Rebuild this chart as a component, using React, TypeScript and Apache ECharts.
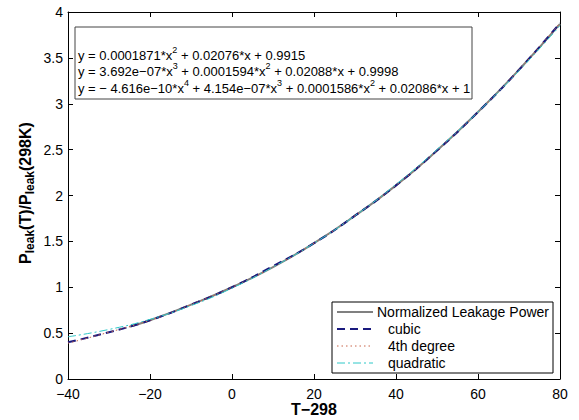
import React, { useEffect, useRef } from "react";
import * as echarts from "echarts";

const xs = [-40, -30, -20, -10, 0, 10, 20, 30, 40, 50, 60, 70, 80];
const cubicVals = [0.4, 0.51, 0.64, 0.81, 1.0, 1.23, 1.48, 1.78, 2.11, 2.49, 2.91, 3.37, 3.88];
const quarticVals = [0.39, 0.51, 0.64, 0.81, 1.0, 1.22, 1.48, 1.78, 2.11, 2.49, 2.91, 3.37, 3.88];
const quadraticVals = [0.46, 0.54, 0.65, 0.8, 0.99, 1.22, 1.48, 1.78, 2.12, 2.5, 2.91, 3.36, 3.85];
const normXs = [-25, -20, -10, 0, 10, 20, 30, 40, 50, 60, 70, 80];
const normVals = [0.57, 0.64, 0.81, 1.0, 1.22, 1.48, 1.78, 2.11, 2.49, 2.91, 3.37, 3.87];

const seriesNames = ["Normalized Leakage Power", "cubic", "4th degree", "quadratic"];
const equations = [
  ["y = 0.0001871*x", "2", " + 0.02076*x + 0.9915"],
  ["y = 3.692e−07*x", "3", " + 0.0001594*x", "2", " + 0.02088*x + 0.9998"],
  ["y = − 4.616e−10*x", "4", " + 4.154e−07*x", "3", " + 0.0001586*x", "2", " + 0.02086*x + 1"],
];

const FONT = "Liberation Sans, Arial, Helvetica, sans-serif";

function pairs(x: number[], y: number[]) {
  return x.map((v, i) => [v, y[i]]);
}

export default function App() {
  const ref = useRef<HTMLDivElement>(null);
  useEffect(() => {
    if (!ref.current) return;
    const chart = echarts.init(ref.current, null, { renderer: "svg" });

    const eqRich = (parts: string[]) =>
      parts.map((p, i) => (i % 2 === 0 ? `{n|${p}}` : `{sup|${p}}`)).join("");

    const lineStyles = [
      { color: "#808080", width: 2, type: "solid" as any },
      { color: "#1a1a7e", width: 2, type: [8, 5] as any },
      { color: "#c8654a", width: 1, type: [1.5, 3] as any },
      { color: "#2ec8c8", width: 1, type: [8, 3, 2, 3] as any },
    ];

    const legendY = [312, 329, 346, 363];
    const legendTextX = [377, 388, 388, 388];

    const graphic: any[] = [
      {
        type: "rect",
        shape: { x: 75, y: 27, width: 397, height: 72 },
        style: { fill: "#fff", stroke: "#444", lineWidth: 1 },
        z: 10,
      },
      ...equations.map((parts, i) => ({
        type: "text",
        x: 78,
        y: 55 + i * 16.5,
        z: 11,
        style: {
          text: eqRich(parts),
          verticalAlign: "middle",
          align: "left",
          fill: "#000",
          rich: {
            n: { fontSize: 13, fontFamily: FONT, lineHeight: 20, fill: "#000" },
            sup: { fontSize: 9, fontFamily: FONT, lineHeight: 10, verticalAlign: "top", fill: "#000" },
          },
        },
      })),
      {
        type: "rect",
        shape: { x: 332, y: 302, width: 221, height: 71 },
        style: { fill: "#fff", stroke: "#000", lineWidth: 1 },
        z: 10,
      },
      ...seriesNames.map((name, i) => ({
        type: "line",
        z: 11,
        shape: { x1: 337, y1: legendY[i], x2: 373, y2: legendY[i] },
        style: {
          stroke: lineStyles[i].color,
          lineWidth: lineStyles[i].width,
          lineDash: Array.isArray(lineStyles[i].type) ? lineStyles[i].type : null,
        },
      })),
      ...seriesNames.map((name, i) => ({
        type: "text",
        z: 11,
        x: legendTextX[i],
        y: legendY[i],
        style: {
          text: name,
          fontSize: 14,
          fontFamily: FONT,
          fill: "#000",
          verticalAlign: "middle",
          align: "left",
        },
      })),
      {
        type: "text",
        x: 25,
        y: 193,
        rotation: Math.PI / 2,
        style: {
          text: "{b|P}{s|leak}{b|(T)/P}{s|leak}{b|(298K)}",
          align: "center",
          verticalAlign: "middle",
          rich: {
            b: { fontSize: 16, fontWeight: "bold", fontFamily: FONT, lineHeight: 22, fill: "#000" },
            s: { fontSize: 12, fontWeight: "bold", fontFamily: FONT, lineHeight: 12, verticalAlign: "bottom", fill: "#000" },
          },
        },
      },
      {
        type: "text",
        x: 314,
        y: 409,
        style: {
          text: "T−298",
          fontSize: 16,
          fontWeight: "bold",
          fontFamily: FONT,
          fill: "#000",
          align: "center",
          verticalAlign: "middle",
        },
      },
    ];

    const axisCommon = {
      axisLine: { show: true, onZero: false, lineStyle: { color: "#000", width: 1 } },
      axisTick: { show: true, inside: true, length: 5, lineStyle: { color: "#000" } },
      splitLine: { show: false },
    };

    const fmt = (v: number) => String(v).replace("-", "−");

    chart.setOption({
      animation: false,
      backgroundColor: "#fff",
      grid: { left: 68, right: 19, top: 12, bottom: 41, containLabel: false },
      xAxis: [
        {
          type: "value",
          min: -40,
          max: 80,
          interval: 20,
          position: "bottom",
          ...axisCommon,
          axisLabel: { show: true, color: "#000", fontSize: 14, lineHeight: 14, fontFamily: FONT, margin: 8, formatter: fmt },
        },
        {
          type: "value",
          min: -40,
          max: 80,
          interval: 20,
          position: "top",
          ...axisCommon,
          axisLabel: { show: false },
        },
      ],
      yAxis: [
        {
          type: "value",
          min: 0,
          max: 4,
          interval: 0.5,
          position: "left",
          ...axisCommon,
          axisLabel: { show: true, color: "#000", fontSize: 14, lineHeight: 12, fontFamily: FONT, margin: 5, formatter: fmt },
        },
        {
          type: "value",
          min: 0,
          max: 4,
          interval: 0.5,
          position: "right",
          ...axisCommon,
          axisLabel: { show: false },
        },
      ],
      series: [
        { name: seriesNames[0], data: pairs(normXs, normVals) },
        { name: seriesNames[1], data: pairs(xs, cubicVals) },
        { name: seriesNames[2], data: pairs(xs, quarticVals) },
        { name: seriesNames[3], data: pairs(xs, quadraticVals) },
      ].map((s, i) => ({
        type: "line",
        name: s.name,
        data: s.data,
        xAxisIndex: 0,
        yAxisIndex: 0,
        smooth: true,
        symbol: "none",
        lineStyle: lineStyles[i],
        z: 2 + i,
      })),
      graphic,
    });
    return () => chart.dispose();
  }, []);
  return (
    <div
      ref={ref}
      style={{ position: "fixed", left: 0, top: 0, width: 579, height: 420, background: "#fff" }}
    />
  );
}
